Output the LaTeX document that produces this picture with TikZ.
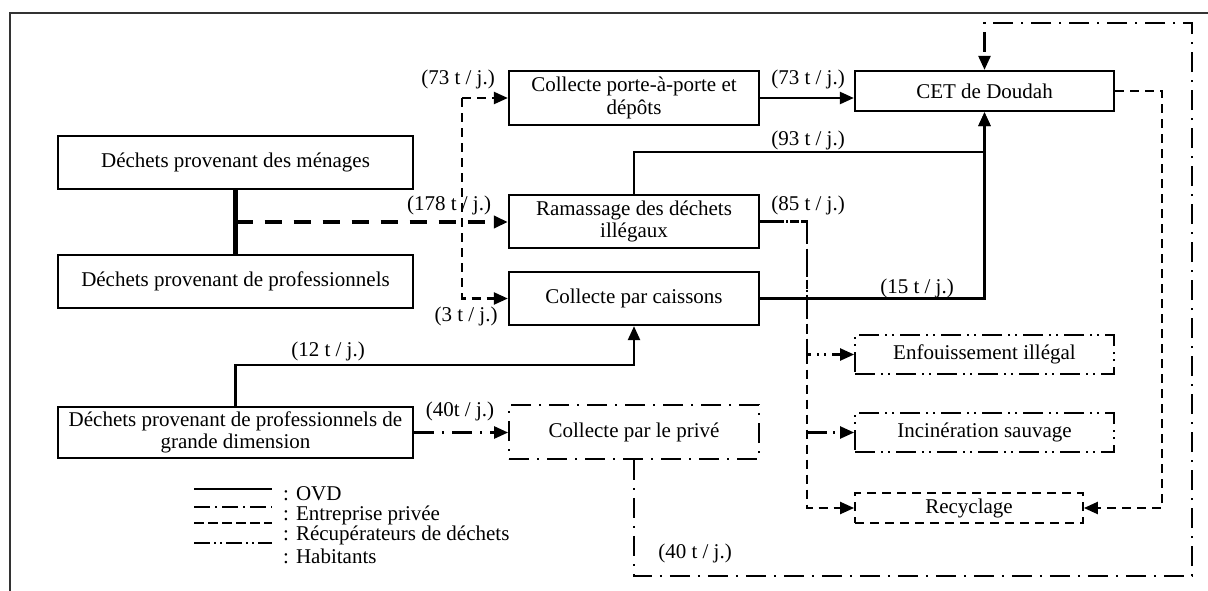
\documentclass[tikz,border=0pt]{standalone}
\usepackage{fontspec}
\setmainfont{Liberation Serif}
\usetikzlibrary{arrows.meta,calc}
\begin{document}
\begin{tikzpicture}[x=1pt,y=-1pt,
  font=\fontsize{21}{22.5}\selectfont,
  tip/.style={-{Triangle[length=14pt,width=12pt]}},
  ovd/.style={line width=2.4pt},
  recup/.style={line width=2.3pt,dash pattern=on 9pt off 6pt},
  privl/.style={line width=2.5pt,dash pattern=on 20pt off 8pt on 2pt off 8pt},
  habl/.style={line width=2.3pt,dash pattern=on 20pt off 6pt on 2pt off 5pt on 2pt off 6pt},
  box/.style={draw,line width=2.3pt,rectangle,inner sep=0pt,align=center},
  lbl/.style={inner sep=0pt}]
\useasboundingbox (0,0) rectangle (1208,590);
% outer frame (cropped at right and bottom)
\draw[line width=2pt,black!80] (10,640) -- (10,13) -- (1240,13);

% boxes
\node[box,minimum width=355pt,minimum height=53pt] (men) at (235.5,162.5) {Déchets provenant des ménages};
\node[box,minimum width=355pt,minimum height=53pt] (pro) at (235.5,281.5) {Déchets provenant de professionnels};
\node[box,minimum width=250pt,minimum height=54pt] (cpp) at (634,98) {Collecte porte-à-porte et\\dépôts};
\node[box,minimum width=250pt,minimum height=53pt] (ram) at (634,221.5) {Ramassage des déchets\\illégaux};
\node[box,minimum width=250pt,minimum height=53pt] (cai) at (634,298.5) {Collecte par caissons};
\node[box,minimum width=259pt,minimum height=40pt] (cet) at (984.5,91) {CET de Doudah};
\node[box,privl,line width=1.8pt,minimum width=250pt,minimum height=54pt] (priv) at (634,432) {Collecte par le privé};
\node[box,minimum width=355pt,minimum height=51pt] (gd) at (235.5,432.5) {Déchets provenant de professionnels de\\grande dimension};
\node[box,habl,line width=1.8pt,minimum width=259pt,minimum height=39pt] (enf) at (984.5,354.5) {Enfouissement illégal};
\node[box,habl,line width=1.8pt,minimum width=259pt,minimum height=39pt] (inc) at (984.5,432.5) {Incinération sauvage};
\node[box,recup,line width=1.8pt,minimum width=228pt,minimum height=30pt] (rec) at (969,508) {Recyclage};

% helper coordinates
\coordinate (vx) at (462,0);
\coordinate (vr) at (807,0);
\coordinate (vc) at (1162,0);
\coordinate (loopbr) at (1192,576);
\coordinate (looptr) at (1192,23);
\coordinate (split) at ($(men.south)!0.5!(pro.north)$);

% connectors
\draw[line width=4.2pt] (men.south) -- (pro.north);
\draw[line width=4.2pt,dash pattern=on 17pt off 12pt,tip] (split) -- (split -| ram.west);
\draw[recup,tip] (cpp.west -| vx) -- (cpp.west);
\draw[recup,tip] (cpp.west -| vx) |- (cai.west);
\draw[ovd,tip] (cpp.east) -- (cpp.east -| cet.west);
\draw[ovd,tip] (ram.north) -- ++(0,-42) -| (cet.south);
\draw[ovd,tip] (cai.east) -| (cet.south);
\draw[recup,tip] (ram.east) -- (ram.east -| vr) |- (rec.west);
\draw[habl,tip] (ram.east) -- (ram.east -| vr) |- (enf.west);
\draw[habl,tip] (inc.west -| vr) -- (inc.west);
\draw[recup,tip] (cet.east) -- (cet.east -| vc) |- (rec.east);
\draw[privl,tip] (priv.south) |- (loopbr) -- (looptr) -| (cet.north);
\draw[ovd,tip] (gd.north) -- ++(0,-41) -| (cai.south);
\draw[privl,tip] (gd.east) -- (gd.east -| priv.west);

% flow labels
\node[lbl] (l73a) at (458,79) {(73 t / j.)};
\node[lbl] (l73b) at (808,79) {(73 t / j.)};
\node[lbl] (l93) at (808,140) {(93 t / j.)};
\node[lbl] (l178) at (449,205) {(178 t / j.)};
\node[lbl] (l85) at (808,205) {(85 t / j.)};
\node[lbl] (l15) at (917,288) {(15 t / j.)};
\node[lbl] (l3) at (466,316) {(3 t / j.)};
\node[lbl] (l12) at (328,351) {(12 t / j.)};
\node[lbl] (l40a) at (460,411) {(40t / j.)};
\node[lbl] (l40b) at (695,553) {(40 t / j.)};

% legend
\node[lbl,anchor=west] (lg1) at (283,494) {: OVD};
\node[lbl,anchor=west] (lg2) at (283,515) {: Entreprise privée};
\node[lbl,anchor=west] (lg3) at (283,535.5) {: Récupérateurs de déchets};
\node[lbl,anchor=west] (lg4) at (283,556) {: Habitants};
\draw[line width=1.6pt] (194,489) -- (272,489);
\draw[line width=1.6pt,dash pattern=on 16pt off 5pt on 2pt off 5pt] (194,507) -- (272,507);
\draw[line width=1.6pt,dash pattern=on 10pt off 4pt] (194,523) -- (272,523);
\draw[line width=1.6pt,dash pattern=on 16pt off 4pt on 2pt off 4pt on 2pt off 4pt] (194,543) -- (272,543);
\end{tikzpicture}
\end{document}
